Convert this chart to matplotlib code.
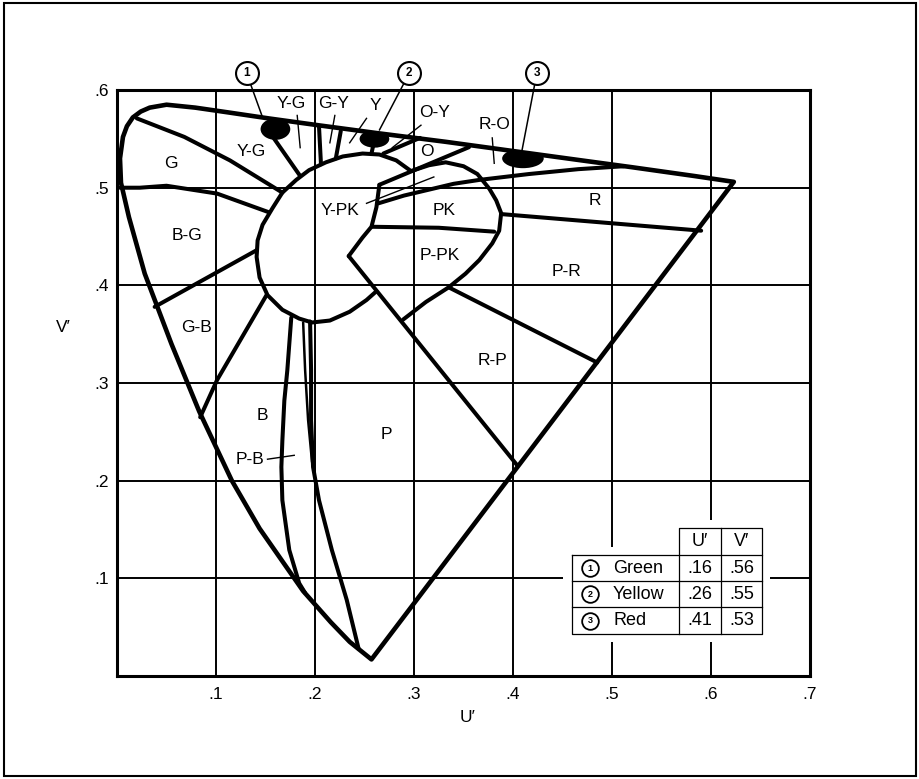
import matplotlib

matplotlib.use("Agg")
import matplotlib.pyplot as plt
import numpy as np
from matplotlib.patches import Ellipse, Polygon, Rectangle

plt.rcParams["font.family"] = ["Liberation Sans", "DejaVu Sans"]

# spectrum locus in u'v', from the violet end round to the red end
LOCUS_U = [0.257, 0.235, 0.216, 0.188, 0.144, 0.116, 0.083, 0.055, 0.028, 0.012,
           0.004, 0.003, 0.006, 0.010, 0.016, 0.024, 0.033, 0.050, 0.079, 0.113,
           0.153, 0.203, 0.262, 0.332, 0.404, 0.469, 0.520, 0.583, 0.623]
LOCUS_V = [0.017, 0.035, 0.055, 0.087, 0.151, 0.200, 0.271, 0.340, 0.412, 0.470,
           0.505, 0.530, 0.552, 0.563, 0.572, 0.578, 0.582, 0.585, 0.582, 0.577,
           0.571, 0.564, 0.556, 0.547, 0.537, 0.528, 0.521, 0.512, 0.506]

# neutral zone: arc from the O corner over the top and round to the notch line
NEUTRAL_U = [0.297, 0.282, 0.265, 0.248, 0.228, 0.211, 0.194, 0.181, 0.167, 0.157,
             0.147, 0.142, 0.141, 0.144, 0.152, 0.167, 0.184, 0.197, 0.215, 0.235,
             0.252, 0.262]
NEUTRAL_V = [0.517, 0.528, 0.534, 0.535, 0.532, 0.526, 0.518, 0.508, 0.495, 0.479,
             0.462, 0.446, 0.429, 0.408, 0.390, 0.375, 0.366, 0.362, 0.364, 0.373,
             0.385, 0.394]
NOTCH_U = [0.234, 0.248, 0.257, 0.262, 0.265]
NOTCH_V = [0.430, 0.449, 0.460, 0.480, 0.503]

# pink zone arc
PK_U = [0.297, 0.315, 0.332, 0.350, 0.364, 0.376, 0.383, 0.388, 0.386, 0.379,
        0.366, 0.352, 0.335, 0.312, 0.289]
PK_V = [0.517, 0.523, 0.526, 0.522, 0.514, 0.499, 0.487, 0.474, 0.456, 0.443,
        0.426, 0.412, 0.398, 0.383, 0.365]

# hue boundaries
G_YG_U, G_YG_V = [0.020, 0.068, 0.114, 0.167], [0.571, 0.552, 0.528, 0.495]
YG_YG_U, YG_YG_V = [0.154, 0.185], [0.557, 0.512]
YG_GY_U, YG_GY_V = [0.204, 0.206], [0.563, 0.524]
GY_Y_U, GY_Y_V = [0.226, 0.221], [0.558, 0.530]
Y_OY_U, Y_OY_V = [0.260, 0.257], [0.549, 0.535]
OY_O_U, OY_O_V = [0.269, 0.306], [0.535, 0.551]
O_RO_U, O_RO_V = [0.265, 0.3555], [0.503, 0.5415]
R_TOP_U = [0.264, 0.290, 0.315, 0.340, 0.366, 0.416, 0.466, 0.512]
R_TOP_V = [0.484, 0.492, 0.498, 0.504, 0.508, 0.514, 0.519, 0.522]
PK_PPK_U, PK_PPK_V = [0.258, 0.325, 0.381], [0.460, 0.459, 0.455]
PR_R_U, PR_R_V = [0.388, 0.590], [0.473, 0.456]
RP_PR_U, RP_PR_V = [0.335, 0.485], [0.398, 0.321]
P_RP_U, P_RP_V = [0.234, 0.404], [0.430, 0.216]
G_BG_U, G_BG_V = [0.003, 0.023, 0.050, 0.101, 0.153], [0.500, 0.500, 0.502, 0.494, 0.475]
BG_GB_U, BG_GB_V = [0.038, 0.141], [0.378, 0.436]
GB_B_U, GB_B_V = [0.084, 0.101, 0.151], [0.265, 0.303, 0.390]
B_PB_U = [0.176, 0.172, 0.169, 0.167, 0.166, 0.167, 0.174, 0.184, 0.190]
B_PB_V = [0.367, 0.313, 0.282, 0.241, 0.214, 0.180, 0.129, 0.095, 0.085]
PB_P_U = [0.195, 0.196, 0.196, 0.198, 0.204, 0.217, 0.232, 0.244]
PB_P_V = [0.363, 0.313, 0.262, 0.214, 0.180, 0.129, 0.078, 0.028]
PB_INNER_U, PB_INNER_V = [0.188, 0.190, 0.193, 0.197], [0.362, 0.313, 0.262, 0.219]

REGION_NAMES = ["G", "Y-G", "Y-G", "G-Y", "Y", "O-Y", "O", "R-O", "R", "PK",
                "Y-PK", "P-PK", "P-R", "R-P", "P", "B", "P-B", "B-G", "G-B"]
REGION_U = [0.054, 0.136, 0.176, 0.219, 0.261, 0.321, 0.313, 0.381, 0.483, 0.330,
            0.225, 0.326, 0.454, 0.379, 0.272, 0.147, 0.134, 0.0705, 0.0806]
REGION_V = [0.525, 0.537, 0.586, 0.586, 0.584, 0.577, 0.537, 0.565, 0.487, 0.477,
            0.477, 0.431, 0.414, 0.323, 0.247, 0.267, 0.222, 0.451, 0.357]

# pointer lines from labels into narrow zones
POINTER_U0 = [0.182, 0.220, 0.252, 0.307, 0.379, 0.252, 0.152]
POINTER_V0 = [0.574, 0.574, 0.571, 0.564, 0.551, 0.484, 0.222]
POINTER_U1 = [0.185, 0.215, 0.235, 0.278, 0.381, 0.320, 0.179]
POINTER_V1 = [0.541, 0.546, 0.546, 0.541, 0.525, 0.511, 0.226]

# signal colours
SIGNAL_NAMES = ["Green", "Yellow", "Red"]
SIGNAL_U = [0.16, 0.26, 0.41]
SIGNAL_V = [0.56, 0.55, 0.53]
SIGNAL_W = [0.030, 0.030, 0.042]
SIGNAL_H = [0.022, 0.018, 0.020]
CALLOUT_U = [0.131, 0.295, 0.424]
CALLOUT_V = [0.617, 0.617, 0.617]
CALLOUT_TIP_U = [0.147, 0.265, 0.409]
CALLOUT_TIP_V = [0.572, 0.559, 0.538]

U_TICKS = [0.1, 0.2, 0.3, 0.4, 0.5, 0.6, 0.7]
U_TICK_LABELS = [".1", ".2", ".3", ".4", ".5", ".6", ".7"]
V_TICKS = [0.1, 0.2, 0.3, 0.4, 0.5, 0.6]
V_TICK_LABELS = [".1", ".2", ".3", ".4", ".5", ".6"]

LW_HEAVY = 2.9
LW_THIN = 1.0

fig = plt.figure(figsize=(9.2, 7.79), dpi=100)
ax = fig.add_axes([0.1272, 0.1322, 0.7533, 0.7522])
ax.set_xlim(0, 0.7)
ax.set_ylim(0, 0.6)
ax.set_xticks(U_TICKS)
ax.set_xticklabels(U_TICK_LABELS)
ax.set_yticks(V_TICKS)
ax.set_yticklabels(V_TICK_LABELS)
ax.tick_params(length=0, labelsize=12.5)
ax.tick_params(axis="x", pad=8)
ax.tick_params(axis="y", pad=6)
ax.set_axisbelow(True)
ax.grid(True, color="black", linewidth=1.4)
for spine in ax.spines.values():
    spine.set_linewidth(2.2)

locus = Polygon(np.column_stack([LOCUS_U, LOCUS_V]), closed=True, fill=False,
                edgecolor="black", linewidth=3.3, joinstyle="round", zorder=3)
ax.add_patch(locus)

heavy = dict(color="black", linewidth=LW_HEAVY, solid_capstyle="round",
             solid_joinstyle="round", zorder=3)
curves = [
    (NEUTRAL_U, NEUTRAL_V), (NOTCH_U, NOTCH_V), (PK_U, PK_V),
    (G_YG_U, G_YG_V), (YG_YG_U, YG_YG_V), (YG_GY_U, YG_GY_V), (GY_Y_U, GY_Y_V),
    (Y_OY_U, Y_OY_V), (OY_O_U, OY_O_V), (O_RO_U, O_RO_V), (R_TOP_U, R_TOP_V),
    (PK_PPK_U, PK_PPK_V), (PR_R_U, PR_R_V), (RP_PR_U, RP_PR_V), (P_RP_U, P_RP_V),
    (G_BG_U, G_BG_V), (BG_GB_U, BG_GB_V), (GB_B_U, GB_B_V),
    (B_PB_U, B_PB_V), (PB_P_U, PB_P_V),
]
for cu, cv in curves:
    ax.plot(cu, cv, **heavy)
ax.plot(PB_INNER_U, PB_INNER_V, color="black", linewidth=1.8,
        solid_capstyle="round", zorder=3)

for u0, v0, u1, v1 in zip(POINTER_U0, POINTER_V0, POINTER_U1, POINTER_V1):
    ax.plot([u0, u1], [v0, v1], color="black", linewidth=LW_THIN, zorder=3)

for name, u, v in zip(REGION_NAMES, REGION_U, REGION_V):
    ax.text(u, v, name, ha="center", va="center", fontsize=12.5, zorder=4)

# signal blobs hang under the locus, so clip them to it
for u, v, w, h in zip(SIGNAL_U, SIGNAL_V, SIGNAL_W, SIGNAL_H):
    blob = Ellipse((u, v), w, h, facecolor="black", edgecolor="none", zorder=3)
    ax.add_patch(blob)
    blob.set_clip_path(locus)

for i, (cu, cv, tu, tv) in enumerate(zip(CALLOUT_U, CALLOUT_V, CALLOUT_TIP_U, CALLOUT_TIP_V)):
    ax.annotate("", xy=(tu, tv), xytext=(cu, cv), annotation_clip=False,
                arrowprops=dict(arrowstyle="-", linewidth=1.1, shrinkA=8.5, shrinkB=0))
    ax.plot(cu, cv, "o", ms=16.5, mfc="white", mec="black", mew=1.5,
            clip_on=False, zorder=6)
    ax.text(cu, cv, str(i + 1), ha="center", va="center", fontsize=8.5,
            fontweight="bold", zorder=7, clip_on=False)

# coordinates table, in axes fractions
tx = ax.transAxes
x_left, x_c1, x_c2, x_right = 0.6566, 0.8110, 0.8716, 0.9307
y_head, y_top, y_r1, y_r2, y_bot = 0.2526, 0.2065, 0.1621, 0.1177, 0.0717
ax.add_patch(Rectangle((0.6436, 0.058), 0.9423 - 0.6436, 0.2201 - 0.058,
                       transform=tx, facecolor="white", edgecolor="none", zorder=5))
ax.add_patch(Rectangle((0.7994, 0.15), 0.9423 - 0.7994, 0.2662 - 0.15,
                       transform=tx, facecolor="white", edgecolor="none", zorder=5))
tbl = dict(color="black", linewidth=0.9, transform=tx, zorder=6)
ax.plot([x_left, x_right, x_right, x_left, x_left], [y_top, y_top, y_bot, y_bot, y_top], **tbl)
ax.plot([x_c1, x_c1, x_right, x_right], [y_bot, y_head, y_head, y_top], **tbl)
ax.plot([x_c2, x_c2], [y_bot, y_head], **tbl)
ax.plot([x_left, x_right], [y_r1, y_r1], **tbl)
ax.plot([x_left, x_right], [y_r2, y_r2], **tbl)

col_u, col_v = (x_c1 + x_c2) / 2, (x_c2 + x_right) / 2
ax.text(col_u, (y_head + y_top) / 2, "U\u2032", transform=tx, ha="center",
        va="center", fontsize=13, zorder=7)
ax.text(col_v, (y_head + y_top) / 2, "V\u2032", transform=tx, ha="center",
        va="center", fontsize=13, zorder=7)
row_mid = [(y_top + y_r1) / 2, (y_r1 + y_r2) / 2, (y_r2 + y_bot) / 2]
for i, (name, u, v, ym) in enumerate(zip(SIGNAL_NAMES, SIGNAL_U, SIGNAL_V, row_mid)):
    ax.plot(0.6825, ym, "o", ms=12, mfc="white", mec="black", mew=1.3,
            transform=tx, zorder=7, clip_on=False)
    ax.text(0.6825, ym, str(i + 1), transform=tx, ha="center", va="center",
            fontsize=6.5, fontweight="bold", zorder=8)
    ax.text(0.7157, ym, name, transform=tx, ha="left", va="center", fontsize=13, zorder=7)
    ax.text(col_u, ym, f"{u:.2f}".lstrip("0"), transform=tx, ha="center",
            va="center", fontsize=13, zorder=7)
    ax.text(col_v, ym, f"{v:.2f}".lstrip("0"), transform=tx, ha="center",
            va="center", fontsize=13, zorder=7)

fig.text(468 / 920, 1 - 718 / 779, "U\u2032", ha="center", va="center", fontsize=12.5)
fig.text(63 / 920, 1 - 327 / 779, "V\u2032", ha="center", va="center", fontsize=12.5)

fig.add_artist(Rectangle((0.004, 0.004), 0.992, 0.992, transform=fig.transFigure,
                         fill=False, edgecolor="black", linewidth=1.5))

fig.savefig("out.png", dpi=100)
